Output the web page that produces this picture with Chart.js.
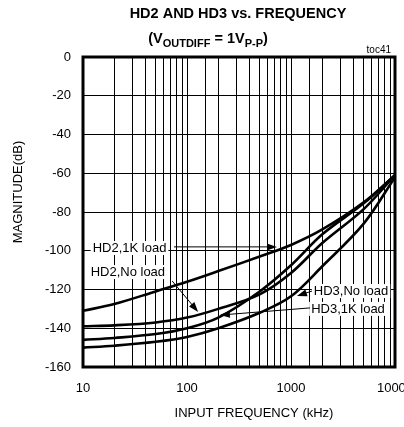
<!DOCTYPE html>
<html>
<head>
<meta charset="utf-8">
<script src="https://cdn.jsdelivr.net/npm/chart.js@4.4.1/dist/chart.umd.min.js"></script>
<style>
  html, body { margin: 0; padding: 0; background: #fff; }
  #wrap { width: 404px; height: 427px; }
</style>
</head>
<body>
<div id="wrap"><canvas id="chart" width="404" height="427"></canvas></div>
<script>
// input frequency (kHz) where the curves were read
const freqs = [10, 20, 50, 100, 200, 500, 1000, 2000, 5000, 10000];

// magnitude (dB) of each curve
const hd2Load   = [-131, -127.5, -121, -116, -110.5, -103, -97, -89, -75, -61];
const hd2NoLoad = [-139, -138.5, -137, -134.5, -130, -122.5, -111.5, -96, -78.5, -61];
const hd3Load   = [-146, -145, -143, -140, -134.5, -121, -107.5, -91.5, -75.5, -61];
const hd3NoLoad = [-150, -149, -147, -144.5, -140, -132, -123.5, -108, -86, -62];

// labelled decades on the x axis
const xLabels = [10, 100, 1000, 10000];

// curve labels, with arrows (data coords: kHz, dB)
const notes = [
    { text: "HD2,1K load", at: [28, -98.6], from: [75, -98], to: [733, -98] },
    { text: "HD2,No load", at: [27, -111], from: [72, -115.6], to: [128, -131.6] },
    { text: "HD3,No load", at: [3777, -120.8], from: [1592, -120.8], to: [1142, -123.4] },
    { text: "HD3,1K load", at: [3532, -130], from: [1524, -129.5], to: [207, -133.2] }
];

const FONT = '"Liberation Sans", Arial, sans-serif';

function toPoints(ys) {
    return freqs.map((f, i) => ({ x: f, y: ys[i] }));
}

function curve(ys) {
    return {
        data: toPoints(ys),
        borderColor: "#000",
        borderWidth: 2.6,
        pointRadius: 0,
        tension: 0.35,
        fill: false
    };
}

// draw arrow with filled head at the end
function arrow(ctx, x1, y1, x2, y2) {
    const a = Math.atan2(y2 - y1, x2 - x1);
    const len = 10, w = 3.5;
    ctx.strokeStyle = "#000";
    ctx.lineWidth = 1;
    ctx.beginPath();
    ctx.moveTo(x1, y1);
    ctx.lineTo(x2 - Math.cos(a) * len * 0.8, y2 - Math.sin(a) * len * 0.8);
    ctx.stroke();
    ctx.fillStyle = "#000";
    ctx.beginPath();
    ctx.moveTo(x2, y2);
    ctx.lineTo(x2 - Math.cos(a) * len - Math.sin(a) * w, y2 - Math.sin(a) * len + Math.cos(a) * w);
    ctx.lineTo(x2 - Math.cos(a) * len + Math.sin(a) * w, y2 - Math.sin(a) * len - Math.cos(a) * w);
    ctx.closePath();
    ctx.fill();
}

const decor = {
    id: "decor",
    afterDatasetsDraw(chart) {
        const ctx = chart.ctx;
        const xs = chart.scales.x, ys = chart.scales.y;
        const area = chart.chartArea;
        ctx.save();

        // labels and arrows
        ctx.font = "13px " + FONT;
        ctx.textAlign = "center";
        ctx.textBaseline = "middle";
        for (const n of notes) {
            const cx = xs.getPixelForValue(n.at[0]);
            const cy = ys.getPixelForValue(n.at[1]);
            const w = ctx.measureText(n.text).width;
            ctx.fillStyle = "#fff";
            ctx.fillRect(cx - w / 2 - 2, cy - 7, w + 4, 14);
            ctx.fillStyle = "#000";
            ctx.fillText(n.text, cx, cy + 0.5);
            arrow(ctx,
                xs.getPixelForValue(n.from[0]), ys.getPixelForValue(n.from[1]),
                xs.getPixelForValue(n.to[0]), ys.getPixelForValue(n.to[1]));
        }

        // frame
        ctx.strokeStyle = "#000";
        ctx.lineWidth = 3;
        ctx.strokeRect(area.left, area.top, area.right - area.left, area.bottom - area.top);
        ctx.restore();
    },
    afterDraw(chart) {
        const ctx = chart.ctx;
        ctx.save();
        ctx.fillStyle = "#000";
        ctx.textBaseline = "alphabetic";

        // title
        ctx.font = "bold 14.5px " + FONT;
        ctx.textAlign = "center";
        ctx.fillText("HD2 AND HD3 vs. FREQUENCY", 238, 18);

        // subtitle with subscripts
        const parts = [
            ["(V", false], ["OUTDIFF", true], [" = 1V", false], ["P-P", true], [")", false]
        ];
        const big = "bold 14.5px " + FONT, small = "bold 11px " + FONT;
        let total = 0;
        for (const p of parts) {
            ctx.font = p[1] ? small : big;
            total += ctx.measureText(p[0]).width;
        }
        let x = 208 - total / 2;
        ctx.textAlign = "left";
        for (const p of parts) {
            ctx.font = p[1] ? small : big;
            ctx.fillText(p[0], x, p[1] ? 47 : 43);
            x += ctx.measureText(p[0]).width;
        }

        // tag
        ctx.font = "10px " + FONT;
        ctx.textAlign = "right";
        ctx.fillText("toc41", 391, 53);

        // axis titles
        ctx.font = "13px " + FONT;
        ctx.textAlign = "center";
        ctx.textBaseline = "middle";
        ctx.fillText("INPUT FREQUENCY (kHz)", 254, 413);
        ctx.translate(18, 192);
        ctx.rotate(-Math.PI / 2);
        ctx.fillText("MAGNITUDE(dB)", 0, 0);
        ctx.restore();
    }
};

new Chart(document.getElementById("chart"), {
    type: "line",
    data: {
        datasets: [curve(hd2Load), curve(hd2NoLoad), curve(hd3Load), curve(hd3NoLoad)]
    },
    options: {
        responsive: false,
        animation: false,
        layout: { padding: { top: 57, right: 9, left: 0, bottom: 0 } },
        plugins: {
            legend: { display: false },
            tooltip: { enabled: false }
        },
        scales: {
            x: {
                type: "logarithmic",
                min: 10,
                max: 10000,
                border: { display: false },
                grid: { color: "#000", lineWidth: 1, drawTicks: false },
                ticks: {
                    autoSkip: false,
                    maxRotation: 0,
                    padding: 14,
                    color: "#000",
                    font: { family: FONT, size: 13 },
                    callback: (v) => xLabels.includes(v) ? String(v) : ""
                },
                afterFit(s) {
                    s.height = 60;
                    s.paddingLeft = 0;
                    s.paddingRight = 0;
                }
            },
            y: {
                min: -160,
                max: 0,
                border: { display: false },
                grid: { color: "#000", lineWidth: 1, drawTicks: false },
                ticks: {
                    stepSize: 20,
                    padding: 12,
                    color: "#000",
                    font: { family: FONT, size: 13 }
                },
                afterFit(s) {
                    s.width = 83;
                    s.paddingTop = 0;
                    s.paddingBottom = 0;
                }
            }
        }
    },
    plugins: [decor]
});
</script>
</body>
</html>
